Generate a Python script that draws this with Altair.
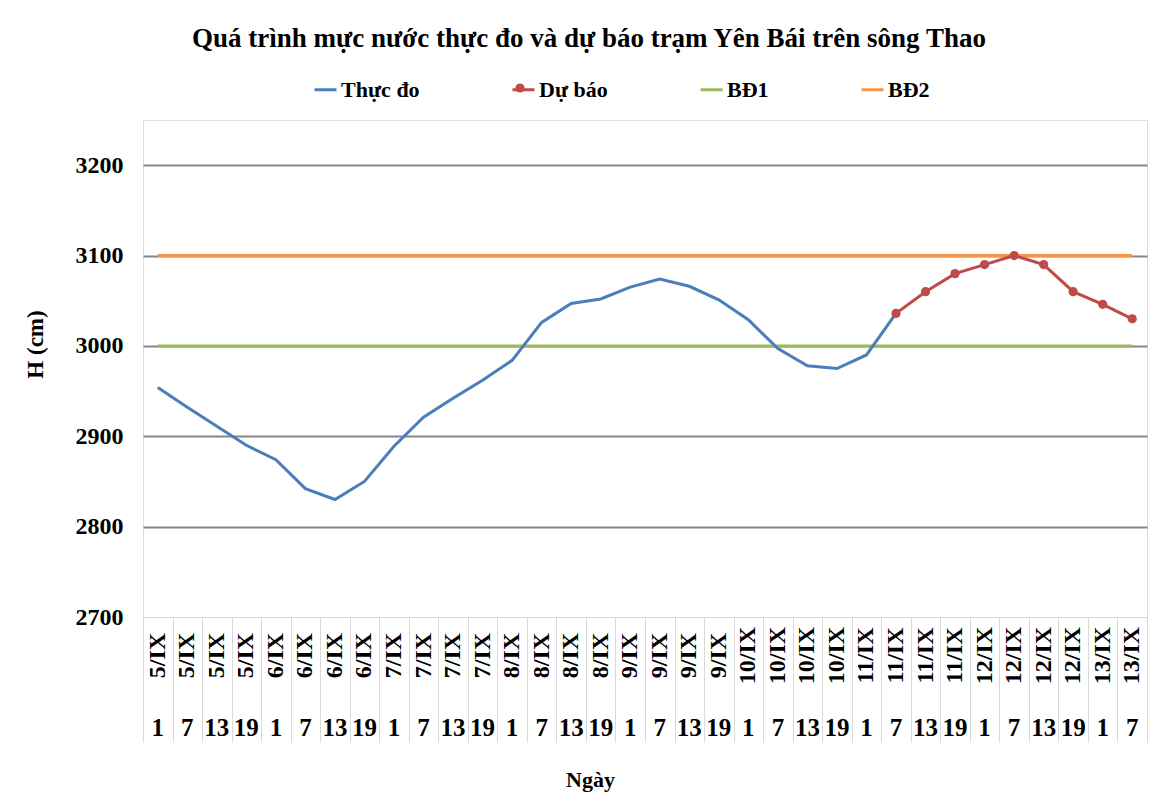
import altair as alt
import pandas as pd

# ---- data ----
ngay = ["5/IX", "5/IX", "5/IX", "5/IX", "6/IX", "6/IX", "6/IX", "6/IX",
        "7/IX", "7/IX", "7/IX", "7/IX", "8/IX", "8/IX", "8/IX", "8/IX",
        "9/IX", "9/IX", "9/IX", "9/IX", "10/IX", "10/IX", "10/IX", "10/IX",
        "11/IX", "11/IX", "11/IX", "11/IX", "12/IX", "12/IX", "12/IX", "12/IX",
        "13/IX", "13/IX"]
gio = ["1", "7", "13", "19", "1", "7", "13", "19",
       "1", "7", "13", "19", "1", "7", "13", "19",
       "1", "7", "13", "19", "1", "7", "13", "19",
       "1", "7", "13", "19", "1", "7", "13", "19",
       "1", "7"]
thuc_do = [2954, 2932, 2911, 2890, 2874, 2842, 2830, 2850, 2889, 2921,
           2942, 2962, 2984, 3026, 3047, 3052, 3065, 3074, 3066, 3051,
           3029, 2997, 2978, 2975, 2990, 3036]
du_bao_start = 25
du_bao = [3036, 3060, 3080, 3090, 3100, 3090, 3060, 3046, 3030]
bd1 = 3000
bd2 = 3100
series_names = ["Thực đo", "Dự báo", "BĐ1", "BĐ2"]
series_colors = ["#4a7ebb", "#be4b48", "#9bbb59", "#f79646"]
y_label_ticks = [2700, 2800, 2900, 3000, 3100, 3200]
y_grid_ticks = [2800, 2900, 3000, 3100, 3200]

n = len(ngay)
rows = []
for i in range(n):
    rows.append({"idx": i, "value": bd1, "series": "BĐ1"})
    rows.append({"idx": i, "value": bd2, "series": "BĐ2"})
for i, v in enumerate(thuc_do):
    rows.append({"idx": i, "value": v, "series": "Thực đo"})
for j, v in enumerate(du_bao):
    rows.append({"idx": du_bao_start + j, "value": v, "series": "Dự báo"})
df = pd.DataFrame(rows)

FONT = "Liberation Serif"
date_expr = "[" + ",".join("'%s'" % s for s in ngay) + "][datum.value]"
hour_expr = "[" + ",".join("'%s'" % s for s in gio) + "][datum.value]"

xscale = alt.Scale(type="band", domain=list(range(n)), paddingInner=0, paddingOuter=0)
yscale = alt.Scale(domain=[2700, 3250], nice=False, zero=False)
color_scale = alt.Scale(domain=series_names, range=series_colors)

legend_lines = alt.Legend(orient="none", legendX=170, legendY=-43, direction="horizontal",
                          columns=4, title=None, labelFont=FONT, labelFontSize=22,
                          labelFontWeight="bold", labelColor="black", symbolSize=484,
                          symbolStrokeWidth=3, columnPadding=86, labelOffset=3,
                          symbolType="stroke")
legend_dot = alt.Legend(orient="none", legendX=366, legendY=-43, direction="horizontal",
                        values=["Dự báo"], title=None, labelExpr="''", labelFont=FONT,
                        labelFontSize=22, symbolType="circle", symbolSize=85,
                        symbolStrokeWidth=0)

y_label_axis = alt.Axis(values=y_label_ticks, orient="left", grid=False, format="d",
                        ticks=False, domain=False, labelPadding=20,
                        labelFont=FONT, labelFontSize=24, labelFontWeight="bold",
                        labelColor="black", title="H (cm)", titleFont=FONT,
                        titleFontSize=23, titleFontWeight="bold", titleColor="black",
                        titleAngle=270, titleX=-108, titleY=224, titleAlign="center",
                        titleBaseline="middle")
y_grid_axis = alt.Axis(values=y_grid_ticks, orient="left", grid=True, gridColor="#868686",
                       gridWidth=2, labels=False, ticks=False, domain=False, title=None)

base = alt.Chart(df)

lines = base.mark_line(strokeWidth=3).encode(
    x=alt.X("idx:O", scale=xscale, bandPosition=0.5,
            axis=alt.Axis(orient="bottom", labelExpr=date_expr, labelAngle=270,
                          labelAlign="center", labelBaseline="middle",
                          labelPadding=38, ticks=False, domain=False, grid=False,
                          title=None, labelFont=FONT, labelFontSize=24,
                          labelFontWeight="bold", labelColor="black",
                          labelOverlap=False)),
    y=alt.Y("value:Q", scale=yscale, axis=y_label_axis),
    color=alt.Color("series:N", scale=color_scale, legend=legend_lines),
    detail="series:N",
    order="idx:O",
)

dots = base.transform_filter("datum.series === 'Dự báo'").mark_circle(size=85, opacity=1).encode(
    x=alt.X("idx:O", scale=xscale, bandPosition=0.5,
            axis=alt.Axis(orient="bottom", labelExpr=hour_expr, labelAngle=0,
                          labelAlign="center", labelBaseline="middle",
                          labelPadding=110, ticks=False, domain=False, grid=False,
                          title=None, labelFont=FONT, labelFontSize=25,
                          labelFontWeight="bold", labelColor="black",
                          labelOverlap=False)),
    y=alt.Y("value:Q", scale=yscale, axis=y_grid_axis),
    color=alt.Color("series:N", scale=color_scale, legend=legend_dot),
)

frame_layer = base.transform_filter("datum.value < 0").mark_point().encode(
    x=alt.X("idx:O", scale=xscale, bandPosition=0.5,
            axis=alt.Axis(orient="bottom", labels=False, ticks=True, tickBand="extent",
                          tickSize=125, tickColor="#d9d9d9", tickWidth=1,
                          domain=True, domainColor="#d9d9d9", grid=False,
                          title="Ngày", titleFont=FONT, titleFontSize=22,
                          titleFontWeight="bold", titleColor="black",
                          titleX=447, titleY=162, titleAlign="center",
                          titleBaseline="middle")),
    y=alt.Y("value:Q", scale=yscale, axis=None),
    color=alt.Color("series:N", scale=color_scale, legend=None),
)

chart = alt.layer(lines, dots, frame_layer).resolve_axis(
    x="independent", y="independent").resolve_legend(color="independent").properties(
    width=1004,
    height=497,
    autosize=alt.AutoSizeParams(type="none"),
    padding={"left": 135, "top": 112, "right": 5, "bottom": 177},
    title=alt.TitleParams(
        text="Quá trình mực nước thực đo và dự báo trạm Yên Bái trên sông Thao",
        font=FONT, fontSize=27, fontWeight="bold", color="black",
        anchor="middle", frame="group", dx=-56, dy=27, offset=24, baseline="bottom"),
).configure_view(stroke="#d9d9d9", strokeWidth=1).configure(background="white")

chart.save("out.html", embed_options={"renderer": "svg", "actions": False})
